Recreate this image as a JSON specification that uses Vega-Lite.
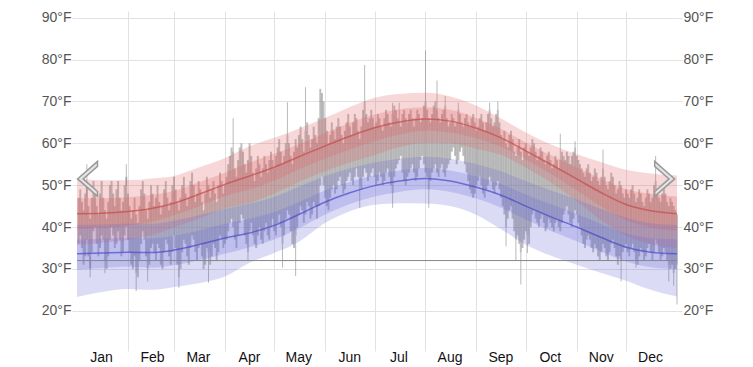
{
"$schema": "https://vega.github.io/schema/vega-lite/v6.json",
"width": 600,
"height": 340,
"padding": {"left": 5, "top": 10, "right": 5, "bottom": 5},
"background": "white",
"config": {"view": {"stroke": null}, "font": "Liberation Sans"},
"datasets": {
"days": [
{"d":1,"l":36,"h":47},{"d":2,"l":38,"h":49},{"d":3,"l":35,"h":46},{"d":4,"l":31,"h":44},{"d":5,"l":33,"h":48},{"d":6,"l":37,"h":50},{"d":7,"l":33,"h":45},{"d":8,"l":30,"h":42},{"d":9,"l":34,"h":47},{"d":10,"l":39,"h":51},
{"d":11,"l":40,"h":49},{"d":12,"l":36,"h":45},{"d":13,"l":33,"h":43},{"d":14,"l":35,"h":48},{"d":15,"l":38,"h":51},{"d":16,"l":37,"h":47},{"d":17,"l":32,"h":44},{"d":18,"l":30,"h":42},{"d":19,"l":33,"h":46},{"d":20,"l":37,"h":50},
{"d":21,"l":40,"h":51},{"d":22,"l":38,"h":48},{"d":23,"l":35,"h":45},{"d":24,"l":36,"h":49},{"d":25,"l":39,"h":51},{"d":26,"l":37,"h":47},{"d":27,"l":33,"h":44},{"d":28,"l":34,"h":46},{"d":29,"l":38,"h":50},{"d":30,"l":40,"h":52},
{"d":31,"l":37,"h":48},{"d":32,"l":34,"h":45},{"d":33,"l":31,"h":42},{"d":34,"l":30,"h":44},{"d":35,"l":33,"h":47},{"d":36,"l":29,"h":43},{"d":37,"l":28,"h":41},{"d":38,"l":32,"h":45},{"d":39,"l":36,"h":49},{"d":40,"l":39,"h":51},
{"d":41,"l":37,"h":48},{"d":42,"l":33,"h":44},{"d":43,"l":30,"h":42},{"d":44,"l":31,"h":46},{"d":45,"l":35,"h":50},{"d":46,"l":36,"h":48},{"d":47,"l":34,"h":45},{"d":48,"l":32,"h":47},{"d":49,"l":36,"h":50},{"d":50,"l":35,"h":46},
{"d":51,"l":31,"h":43},{"d":52,"l":30,"h":45},{"d":53,"l":34,"h":49},{"d":54,"l":37,"h":51},{"d":55,"l":36,"h":47},{"d":56,"l":33,"h":44},{"d":57,"l":31,"h":46},{"d":58,"l":34,"h":50},{"d":59,"l":38,"h":52},{"d":60,"l":35,"h":49},
{"d":61,"l":31,"h":46},{"d":62,"l":28,"h":44},{"d":63,"l":30,"h":47},{"d":64,"l":34,"h":50},{"d":65,"l":37,"h":52},{"d":66,"l":36,"h":48},{"d":67,"l":33,"h":45},{"d":68,"l":31,"h":47},{"d":69,"l":35,"h":51},{"d":70,"l":38,"h":53},
{"d":71,"l":37,"h":50},{"d":72,"l":34,"h":46},{"d":73,"l":32,"h":48},{"d":74,"l":35,"h":51},{"d":75,"l":36,"h":49},{"d":76,"l":33,"h":46},{"d":77,"l":30,"h":44},{"d":78,"l":31,"h":48},{"d":79,"l":35,"h":52},{"d":80,"l":34,"h":50},
{"d":81,"l":31,"h":47},{"d":82,"l":33,"h":49},{"d":83,"l":36,"h":51},{"d":84,"l":35,"h":48},{"d":85,"l":32,"h":46},{"d":86,"l":34,"h":50},{"d":87,"l":38,"h":53},{"d":88,"l":37,"h":51},{"d":89,"l":35,"h":48},{"d":90,"l":36,"h":50},
{"d":91,"l":37,"h":52},{"d":92,"l":39,"h":55},{"d":93,"l":41,"h":57},{"d":94,"l":42,"h":59},{"d":95,"l":40,"h":58},{"d":96,"l":37,"h":54},{"d":97,"l":35,"h":52},{"d":98,"l":38,"h":56},{"d":99,"l":41,"h":59},{"d":100,"l":43,"h":60},
{"d":101,"l":42,"h":58},{"d":102,"l":38,"h":55},{"d":103,"l":36,"h":53},{"d":104,"l":34,"h":56},{"d":105,"l":39,"h":60},{"d":106,"l":41,"h":57},{"d":107,"l":38,"h":53},{"d":108,"l":36,"h":51},{"d":109,"l":35,"h":54},{"d":110,"l":38,"h":57},
{"d":111,"l":40,"h":55},{"d":112,"l":37,"h":52},{"d":113,"l":36,"h":54},{"d":114,"l":39,"h":57},{"d":115,"l":41,"h":55},{"d":116,"l":38,"h":53},{"d":117,"l":37,"h":56},{"d":118,"l":40,"h":58},{"d":119,"l":42,"h":56},{"d":120,"l":39,"h":54},
{"d":121,"l":38,"h":57},{"d":122,"l":41,"h":59},{"d":123,"l":43,"h":61},{"d":124,"l":40,"h":58},{"d":125,"l":36,"h":55},{"d":126,"l":38,"h":57},{"d":127,"l":42,"h":60},{"d":128,"l":44,"h":62},{"d":129,"l":43,"h":60},{"d":130,"l":39,"h":57},
{"d":131,"l":36,"h":55},{"d":132,"l":35,"h":58},{"d":133,"l":38,"h":61},{"d":134,"l":40,"h":59},{"d":135,"l":43,"h":62},{"d":136,"l":45,"h":64},{"d":137,"l":44,"h":61},{"d":138,"l":41,"h":58},{"d":139,"l":43,"h":63},{"d":140,"l":46,"h":65},
{"d":141,"l":45,"h":62},{"d":142,"l":42,"h":59},{"d":143,"l":43,"h":61},{"d":144,"l":46,"h":64},{"d":145,"l":45,"h":62},{"d":146,"l":42,"h":60},{"d":147,"l":45,"h":66},{"d":148,"l":50,"h":73},{"d":149,"l":52,"h":72},{"d":150,"l":50,"h":70},
{"d":151,"l":47,"h":66},{"d":152,"l":45,"h":63},{"d":153,"l":44,"h":60},{"d":154,"l":47,"h":62},{"d":155,"l":49,"h":65},{"d":156,"l":50,"h":63},{"d":157,"l":48,"h":61},{"d":158,"l":49,"h":64},{"d":159,"l":51,"h":66},{"d":160,"l":52,"h":64},
{"d":161,"l":50,"h":62},{"d":162,"l":48,"h":60},{"d":163,"l":49,"h":63},{"d":164,"l":51,"h":65},{"d":165,"l":52,"h":67},{"d":166,"l":53,"h":64},{"d":167,"l":51,"h":62},{"d":168,"l":50,"h":65},{"d":169,"l":52,"h":67},{"d":170,"l":54,"h":66},
{"d":171,"l":52,"h":63},{"d":172,"l":50,"h":61},{"d":173,"l":49,"h":64},{"d":174,"l":52,"h":68},{"d":175,"l":54,"h":70},{"d":176,"l":53,"h":67},{"d":177,"l":51,"h":65},{"d":178,"l":52,"h":66},{"d":179,"l":53,"h":68},{"d":180,"l":54,"h":66},
{"d":181,"l":52,"h":64},{"d":182,"l":50,"h":65},{"d":183,"l":51,"h":67},{"d":184,"l":53,"h":66},{"d":185,"l":52,"h":64},{"d":186,"l":50,"h":63},{"d":187,"l":51,"h":66},{"d":188,"l":53,"h":68},{"d":189,"l":54,"h":67},{"d":190,"l":52,"h":65},
{"d":191,"l":50,"h":64},{"d":192,"l":48,"h":67},{"d":193,"l":52,"h":69},{"d":194,"l":54,"h":68},{"d":195,"l":55,"h":66},{"d":196,"l":56,"h":65},{"d":197,"l":57,"h":64},{"d":198,"l":53,"h":67},{"d":199,"l":51,"h":68},{"d":200,"l":50,"h":66},
{"d":201,"l":52,"h":65},{"d":202,"l":53,"h":67},{"d":203,"l":54,"h":68},{"d":204,"l":55,"h":66},{"d":205,"l":53,"h":64},{"d":206,"l":51,"h":66},{"d":207,"l":52,"h":68},{"d":208,"l":54,"h":67},{"d":209,"l":56,"h":65},{"d":210,"l":57,"h":66},
{"d":211,"l":55,"h":69},{"d":212,"l":53,"h":70},{"d":213,"l":52,"h":68},{"d":214,"l":49,"h":66},{"d":215,"l":51,"h":65},{"d":216,"l":53,"h":67},{"d":217,"l":54,"h":69},{"d":218,"l":55,"h":70},{"d":219,"l":53,"h":68},{"d":220,"l":52,"h":66},
{"d":221,"l":54,"h":65},{"d":222,"l":55,"h":67},{"d":223,"l":53,"h":68},{"d":224,"l":52,"h":69},{"d":225,"l":54,"h":66},{"d":226,"l":55,"h":64},{"d":227,"l":56,"h":65},{"d":228,"l":58,"h":67},{"d":229,"l":59,"h":66},{"d":230,"l":57,"h":64},
{"d":231,"l":55,"h":65},{"d":232,"l":56,"h":68},{"d":233,"l":58,"h":67},{"d":234,"l":59,"h":65},{"d":235,"l":57,"h":64},{"d":236,"l":55,"h":66},{"d":237,"l":53,"h":67},{"d":238,"l":51,"h":65},{"d":239,"l":49,"h":64},{"d":240,"l":48,"h":66},
{"d":241,"l":47,"h":67},{"d":242,"l":48,"h":65},{"d":243,"l":50,"h":63},{"d":244,"l":51,"h":64},{"d":245,"l":52,"h":66},{"d":246,"l":50,"h":67},{"d":247,"l":48,"h":65},{"d":248,"l":47,"h":63},{"d":249,"l":49,"h":65},{"d":250,"l":50,"h":67},
{"d":251,"l":52,"h":68},{"d":252,"l":51,"h":66},{"d":253,"l":49,"h":64},{"d":254,"l":48,"h":65},{"d":255,"l":50,"h":67},{"d":256,"l":51,"h":68},{"d":257,"l":49,"h":65},{"d":258,"l":47,"h":62},{"d":259,"l":45,"h":61},{"d":260,"l":43,"h":63},
{"d":261,"l":40,"h":60},{"d":262,"l":42,"h":59},{"d":263,"l":44,"h":62},{"d":264,"l":45,"h":63},{"d":265,"l":42,"h":61},{"d":266,"l":39,"h":58},{"d":267,"l":37,"h":57},{"d":268,"l":38,"h":59},{"d":269,"l":36,"h":61},{"d":270,"l":34,"h":58},
{"d":271,"l":35,"h":56},{"d":272,"l":37,"h":59},{"d":273,"l":39,"h":60},{"d":274,"l":38,"h":58},{"d":275,"l":36,"h":57},{"d":276,"l":40,"h":59},{"d":277,"l":43,"h":61},{"d":278,"l":44,"h":60},{"d":279,"l":42,"h":58},{"d":280,"l":41,"h":56},
{"d":281,"l":40,"h":57},{"d":282,"l":42,"h":59},{"d":283,"l":43,"h":58},{"d":284,"l":41,"h":56},{"d":285,"l":39,"h":55},{"d":286,"l":40,"h":57},{"d":287,"l":42,"h":58},{"d":288,"l":41,"h":56},{"d":289,"l":40,"h":54},{"d":290,"l":39,"h":55},
{"d":291,"l":41,"h":57},{"d":292,"l":42,"h":56},{"d":293,"l":40,"h":54},{"d":294,"l":39,"h":56},{"d":295,"l":41,"h":58},{"d":296,"l":43,"h":57},{"d":297,"l":44,"h":56},{"d":298,"l":45,"h":58},{"d":299,"l":43,"h":57},{"d":300,"l":41,"h":55},
{"d":301,"l":40,"h":57},{"d":302,"l":42,"h":58},{"d":303,"l":44,"h":59},{"d":304,"l":43,"h":57},{"d":305,"l":41,"h":56},{"d":306,"l":40,"h":55},{"d":307,"l":38,"h":54},{"d":308,"l":36,"h":53},{"d":309,"l":35,"h":52},{"d":310,"l":37,"h":54},
{"d":311,"l":38,"h":55},{"d":312,"l":37,"h":53},{"d":313,"l":35,"h":51},{"d":314,"l":34,"h":52},{"d":315,"l":36,"h":54},{"d":316,"l":35,"h":53},{"d":317,"l":33,"h":51},{"d":318,"l":32,"h":50},{"d":319,"l":34,"h":52},{"d":320,"l":36,"h":54},
{"d":321,"l":35,"h":52},{"d":322,"l":33,"h":50},{"d":323,"l":32,"h":49},{"d":324,"l":34,"h":51},{"d":325,"l":36,"h":53},{"d":326,"l":37,"h":52},{"d":327,"l":35,"h":50},{"d":328,"l":33,"h":48},{"d":329,"l":31,"h":49},{"d":330,"l":33,"h":51},
{"d":331,"l":32,"h":50},{"d":332,"l":34,"h":48},{"d":333,"l":35,"h":47},{"d":334,"l":36,"h":49},{"d":335,"l":34,"h":48},{"d":336,"l":33,"h":47},{"d":337,"l":35,"h":49},{"d":338,"l":36,"h":50},{"d":339,"l":34,"h":48},{"d":340,"l":32,"h":46},
{"d":341,"l":31,"h":47},{"d":342,"l":33,"h":49},{"d":343,"l":35,"h":48},{"d":344,"l":34,"h":46},{"d":345,"l":32,"h":45},{"d":346,"l":33,"h":47},{"d":347,"l":35,"h":49},{"d":348,"l":36,"h":48},{"d":349,"l":34,"h":46},{"d":350,"l":32,"h":47},
{"d":351,"l":34,"h":50},{"d":352,"l":37,"h":51},{"d":353,"l":36,"h":49},{"d":354,"l":34,"h":47},{"d":355,"l":32,"h":46},{"d":356,"l":33,"h":48},{"d":357,"l":35,"h":50},{"d":358,"l":34,"h":48},{"d":359,"l":32,"h":46},{"d":360,"l":31,"h":45},
{"d":361,"l":30,"h":47},{"d":362,"l":31,"h":46},{"d":363,"l":29,"h":45},{"d":364,"l":30,"h":44},{"d":365,"l":31,"h":43}
],
"spikes": [
{"d":6,"a":47,"b":55},{"d":8,"a":28,"b":33},{"d":17,"a":29,"b":32},{"d":30,"a":50,"b":55},{"d":36,"a":24.7,"b":29},{"d":43,"a":27,"b":30},
{"d":62,"a":25.5,"b":28},{"d":80,"a":26.7,"b":34},{"d":95,"a":58,"b":66},{"d":104,"a":32,"b":34},{"d":125,"a":30.3,"b":36},{"d":128,"a":62,"b":69.8},
{"d":133,"a":28.3,"b":38},{"d":139,"a":63,"b":73.4},{"d":172,"a":44.6,"b":50},{"d":175,"a":70,"b":78.7},{"d":192,"a":44.6,"b":48},{"d":192,"a":67,"b":69.7},
{"d":196,"a":65,"b":69.7},{"d":212,"a":70,"b":82.2},{"d":214,"a":44.6,"b":49},{"d":219,"a":68,"b":75},{"d":224,"a":69,"b":71.3},{"d":232,"a":68,"b":69.7},
{"d":251,"a":68,"b":69.7},{"d":256,"a":68,"b":70},{"d":261,"a":35.4,"b":40},{"d":267,"a":31.9,"b":37},{"d":270,"a":26.3,"b":34},{"d":274,"a":33.8,"b":38},
{"d":294,"a":56,"b":62.3},{"d":303,"a":59,"b":60.5},{"d":320,"a":54,"b":58.5},{"d":323,"a":31.9,"b":32},{"d":331,"a":27,"b":32},{"d":340,"a":30.3,"b":32},
{"d":352,"a":51,"b":57},{"d":360,"a":27,"b":31},{"d":363,"a":26,"b":29},{"d":365,"a":21.5,"b":31}
],
"bands": [
{"d":0,"h90":51.4,"h75":46.9,"ha":43.2,"h25":39.5,"h10":35.8,"l90":40.5,"l75":37.0,"la":33.6,"l25":29.8,"l10":23.3},
{"d":15,"h90":51.2,"h75":46.9,"ha":43.3,"h25":39.7,"h10":36.2,"l90":40.6,"l75":37.2,"la":33.8,"l25":30.2,"l10":24.5},
{"d":31,"h90":51.2,"h75":47.1,"ha":43.7,"h25":40.3,"h10":36.9,"l90":40.8,"l75":37.4,"la":34.0,"l25":30.5,"l10":25.2},
{"d":46,"h90":51.6,"h75":47.7,"ha":44.5,"h25":41.3,"h10":38.1,"l90":40.8,"l75":37.3,"la":33.9,"l25":30.3,"l10":25.0},
{"d":59,"h90":52.2,"h75":48.6,"ha":45.7,"h25":42.8,"h10":39.9,"l90":41.5,"l75":37.9,"la":34.5,"l25":30.9,"l10":25.7},
{"d":74,"h90":54.2,"h75":50.7,"ha":47.8,"h25":44.9,"h10":42.0,"l90":42.8,"l75":39.2,"la":35.8,"l25":32.1,"l10":26.6},
{"d":90,"h90":56.5,"h75":53.0,"ha":50.2,"h25":47.4,"h10":44.5,"l90":44.3,"l75":40.8,"la":37.4,"l25":33.6,"l10":28.2},
{"d":105,"h90":59.3,"h75":55.4,"ha":52.2,"h25":49.0,"h10":45.8,"l90":45.6,"l75":42.0,"la":38.6,"l25":35.2,"l10":31.5},
{"d":120,"h90":61.3,"h75":57.5,"ha":54.3,"h25":51.1,"h10":48.0,"l90":47.2,"l75":43.6,"la":40.4,"l25":37.0,"l10":33.8},
{"d":135,"h90":63.5,"h75":59.8,"ha":56.8,"h25":53.8,"h10":50.8,"l90":49.6,"l75":46.0,"la":43.0,"l25":39.7,"l10":36.5},
{"d":151,"h90":66.1,"h75":62.4,"ha":59.4,"h25":56.4,"h10":53.4,"l90":52.2,"l75":48.8,"la":46.0,"l25":43.0,"l10":41.0},
{"d":166,"h90":68.7,"h75":64.9,"ha":61.7,"h25":58.5,"h10":55.4,"l90":54.0,"l75":50.8,"la":48.2,"l25":45.5,"l10":43.8},
{"d":181,"h90":70.9,"h75":66.9,"ha":63.7,"h25":60.5,"h10":57.2,"l90":55.4,"l75":52.4,"la":49.9,"l25":47.3,"l10":45.3},
{"d":196,"h90":71.8,"h75":68.1,"ha":65.1,"h25":62.1,"h10":59.1,"l90":56.3,"l75":53.5,"la":51.0,"l25":48.4,"l10":45.7},
{"d":212,"h90":72.1,"h75":68.6,"ha":65.8,"h25":63.0,"h10":60.1,"l90":56.8,"l75":54.1,"la":51.6,"l25":49.0,"l10":45.6},
{"d":227,"h90":71.2,"h75":68.0,"ha":65.3,"h25":62.6,"h10":60.0,"l90":56.3,"l75":53.5,"la":51.0,"l25":48.4,"l10":45.0},
{"d":243,"h90":69.0,"h75":66.0,"ha":63.6,"h25":61.2,"h10":58.7,"l90":55.0,"l75":52.1,"la":49.5,"l25":46.8,"l10":42.9},
{"d":258,"h90":65.9,"h75":63.4,"ha":61.3,"h25":59.2,"h10":57.2,"l90":53.3,"l75":50.3,"la":47.6,"l25":44.6,"l10":39.5},
{"d":273,"h90":62.6,"h75":60.2,"ha":58.2,"h25":56.2,"h10":54.2,"l90":51.0,"l75":47.8,"la":45.0,"l25":41.8,"l10":35.8},
{"d":288,"h90":59.8,"h75":57.2,"ha":55.0,"h25":52.8,"h10":50.7,"l90":48.8,"l75":45.5,"la":42.5,"l25":39.1,"l10":33.2},
{"d":304,"h90":57.4,"h75":54.2,"ha":51.5,"h25":48.8,"h10":46.2,"l90":46.6,"l75":43.1,"la":40.0,"l25":36.6,"l10":31.0},
{"d":319,"h90":55.5,"h75":51.5,"ha":48.2,"h25":44.9,"h10":41.6,"l90":44.3,"l75":40.7,"la":37.5,"l25":34.1,"l10":29.0},
{"d":334,"h90":53.7,"h75":49.1,"ha":45.4,"h25":41.7,"h10":37.9,"l90":42.2,"l75":38.5,"la":35.2,"l25":31.8,"l10":27.2},
{"d":349,"h90":52.8,"h75":47.9,"ha":43.9,"h25":39.9,"h10":35.9,"l90":40.9,"l75":37.3,"la":34.0,"l25":30.4,"l10":25.0},
{"d":365,"h90":52.3,"h75":47.3,"ha":43.2,"h25":39.1,"h10":35.0,"l90":40.5,"l75":37.0,"la":33.6,"l25":30.0,"l10":23.4}
],
"nav": [{"d":6.4,"t":51.5,"s":"L"},{"d":357.5,"t":51.5,"s":"R"}]
},
"layer": [
{"data":{"name":"days"},
 "mark":{"type":"rule","strokeWidth":2,"color":"#808080","opacity":0.5},
 "encoding":{
  "x":{"field":"d","type":"quantitative","scale":{"domain":[0,365],"nice":false,"zero":false},
   "axis":{"title":null,"values":[0,31,59,90,120,151,181,212,243,273,304,334],
    "labelExpr":"['Jan','Feb','Mar','Apr','May','Jun','Jul','Aug','Sep','Oct','Nov','Dec'][indexof([0,31,59,90,120,151,181,212,243,273,304,334], datum.value)]",
    "labelOffset":24,"labelFlush":false,"labelOverlap":false,"labelBound":false,
    "ticks":false,"domain":false,"grid":true,
    "gridColor":{"condition":{"test":"datum.value === 0","value":"transparent"},"value":"#e2e2e2"},
    "labelBaseline":"alphabetic","labelPadding":10,"labelFontSize":14,"labelColor":"#111","labelFont":"Liberation Sans"}},
  "y":{"field":"l","type":"quantitative","scale":{"domain":[10.4,91.6],"nice":false,"zero":false},
   "axis":{"orient":"left","title":null,"values":[20,30,40,50,60,70,80,90],"labelExpr":"datum.value + '°F'",
    "domain":false,"ticks":true,"tickSize":5,"tickColor":"#e2e2e2","grid":true,"gridColor":"#e2e2e2",
    "labelPadding":1,"labelFontSize":14,"labelColor":"#555","labelFont":"Liberation Sans","minExtent":72,"maxExtent":72}},
  "y2":{"field":"h"}}},
{"data":{"name":"spikes"},
 "mark":{"type":"rule","strokeWidth":1,"color":"#808080","opacity":0.55},
 "encoding":{
  "x":{"field":"d","type":"quantitative"},
  "y":{"field":"a","type":"quantitative",
   "axis":{"orient":"right","title":null,"values":[20,30,40,50,60,70,80,90],"labelExpr":"datum.value + '°F'",
    "domain":false,"ticks":true,"tickSize":5,"tickColor":"#e2e2e2","grid":false,
    "labelPadding":1,"labelFontSize":14,"labelColor":"#555","labelFont":"Liberation Sans"}},
  "y2":{"field":"b"}}},
{"data":{"name":"bands"},
 "mark":{"type":"area","color":"#e06060","opacity":0.25,"interpolate":"monotone"},
 "encoding":{"x":{"field":"d","type":"quantitative"},"y":{"field":"h10","type":"quantitative","axis":null},"y2":{"field":"h90"}}},
{"data":{"name":"bands"},
 "mark":{"type":"area","color":"#e06060","opacity":0.25,"interpolate":"monotone"},
 "encoding":{"x":{"field":"d","type":"quantitative"},"y":{"field":"h25","type":"quantitative","axis":null},"y2":{"field":"h75"}}},
{"data":{"name":"bands"},
 "mark":{"type":"area","color":"#6868d8","opacity":0.24,"interpolate":"monotone"},
 "encoding":{"x":{"field":"d","type":"quantitative"},"y":{"field":"l10","type":"quantitative","axis":null},"y2":{"field":"l90"}}},
{"data":{"name":"bands"},
 "mark":{"type":"area","color":"#6868d8","opacity":0.24,"interpolate":"monotone"},
 "encoding":{"x":{"field":"d","type":"quantitative"},"y":{"field":"l25","type":"quantitative","axis":null},"y2":{"field":"l75"}}},
{"data":{"name":"bands"},
 "mark":{"type":"line","color":"#c84848","opacity":0.7,"strokeWidth":1.5,"interpolate":"monotone"},
 "encoding":{"x":{"field":"d","type":"quantitative"},"y":{"field":"ha","type":"quantitative","axis":null}}},
{"data":{"name":"bands"},
 "mark":{"type":"line","color":"#4848c8","opacity":0.7,"strokeWidth":1.5,"interpolate":"monotone"},
 "encoding":{"x":{"field":"d","type":"quantitative"},"y":{"field":"la","type":"quantitative","axis":null}}},
{"data":{"values":[{"f":32}]},
 "mark":{"type":"rule","color":"#888888","strokeWidth":1},
 "encoding":{"y":{"field":"f","type":"quantitative","axis":null}}},
{"data":{"name":"nav"},
 "mark":{"type":"point","filled":true,"fill":"#e4e4e4","stroke":"#999999","strokeWidth":1.5,"opacity":1,"size":1225},
 "encoding":{"x":{"field":"d","type":"quantitative"},"y":{"field":"t","type":"quantitative","axis":null},
  "shape":{"field":"s","type":"nominal","legend":null,
   "scale":{"domain":["L","R"],"range":["M0.57,-1 L-0.57,0 L0.57,1 L0.57,0.72 L-0.25,0 L0.57,-0.72 Z","M-0.57,-1 L0.57,0 L-0.57,1 L-0.57,0.72 L0.25,0 L-0.57,-0.72 Z"]}}}}
],
"resolve": {"axis": {"y": "independent"}}
}
